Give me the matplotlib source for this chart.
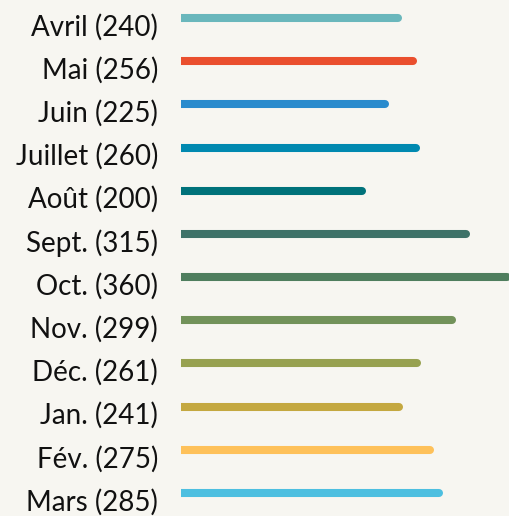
import matplotlib
matplotlib.use("Agg")
import matplotlib.pyplot as plt
import matplotlib.transforms as mtransforms

months = ["Avril", "Mai", "Juin", "Juillet", "Août", "Sept.", "Oct.",
          "Nov.", "Déc.", "Jan.", "Fév.", "Mars"]
values = [240, 256, 225, 260, 200, 315, 360, 299, 261, 241, 275, 285]
colors = ["#6ab7bc", "#ea4f2e", "#2a8bcd", "#0089b0", "#00727a", "#3e7268",
          "#4f7e5e", "#72925a", "#97a150", "#c4a840", "#fec15a", "#4dbfe0"]

W, H = 509, 516
bg = "#f7f6f1"
fig = plt.figure(figsize=(W / 100, H / 100), dpi=100, facecolor=bg)
ax = fig.add_axes([181 / W, 0, (W - 181) / W, 1])
ax.set_facecolor(bg)

step = (493 - 18) / 11
ax.set_xlim(0, (W - 181) / 0.905)
ax.set_ylim(11 + (H - 493) / step, -18 / step)

for i, (m, v, c) in enumerate(zip(months, values, colors)):
    ax.plot([0, v], [i, i], color=c, lw=5.8, solid_capstyle="round")

# labels sit left of the axes, a bit below the line
off = mtransforms.ScaledTranslation(-23 / 100, -9 / 100, fig.dpi_scale_trans)
trans = mtransforms.blended_transform_factory(ax.transAxes, ax.transData) + off
for i, (m, v) in enumerate(zip(months, values)):
    ax.text(0, i, f"{m} ({v})", transform=trans, ha="right", va="center",
            fontsize=20, family="Lato", color="#111111", clip_on=False)

for s in ax.spines.values():
    s.set_visible(False)
ax.set_xticks([])
ax.set_yticks([])

fig.savefig("out.png", dpi=100, facecolor=bg)
